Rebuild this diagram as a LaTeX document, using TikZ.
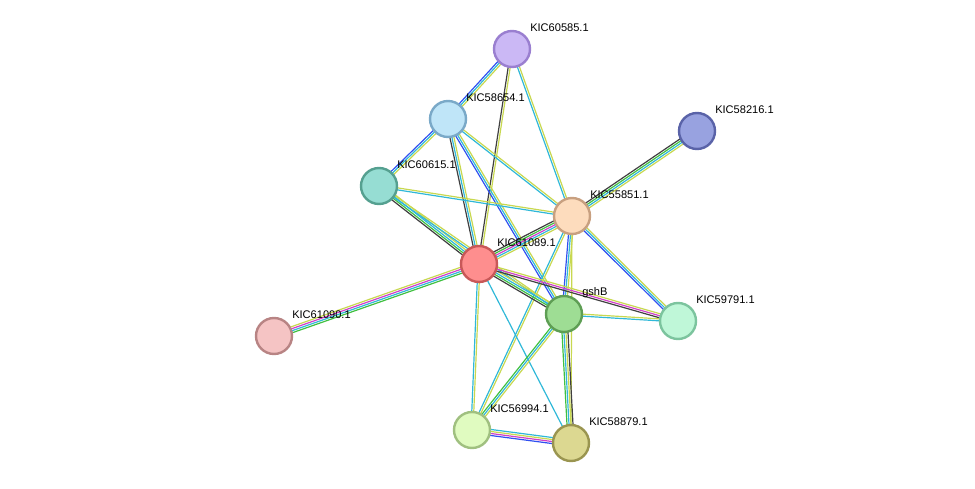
\documentclass[tikz,border=0pt]{standalone}
\usepackage{fontspec}
\setmainfont{Liberation Sans}
\usetikzlibrary{calc}
\definecolor{cyg}{HTML}{C8D850}
\definecolor{cdk}{HTML}{404040}
\definecolor{ccy}{HTML}{30B8D8}
\definecolor{cmg}{HTML}{D040C8}
\definecolor{cgr}{HTML}{40C040}
\definecolor{cbl}{HTML}{3050F0}
\tikzset{
 prot/.style={circle,minimum size=27pt,inner sep=0pt,line width=1.8pt},
 lbl/.style={anchor=west,font=\fontsize{8.3}{10}\selectfont,inner sep=0pt},
 ln/.style={line width=0.9pt}
}
\newcommand{\edg}[4]{% a b n colors
 \foreach \c [count=\i] in {#4}{
  \pgfmathsetmacro\off{(\i-(#3+1)/2)*1.5}
  \draw[ln,\c] ($(#1)!\off pt!90:(#2)$) -- ($(#2)!\off pt!-90:(#1)$);
 }}
\begin{document}
\begin{tikzpicture}[x=0.75pt,y=-0.75pt]
\useasboundingbox (0,0) rectangle (975,489);
\coordinate (a) at (512,49);
\coordinate (b) at (448,119);
\coordinate (c) at (697,131);
\coordinate (d) at (379,186);
\coordinate (e) at (572,216);
\coordinate (f) at (479,264);
\coordinate (g) at (564,314);
\coordinate (h) at (678,321);
\coordinate (i) at (274,336);
\coordinate (j) at (472,430);
\coordinate (k) at (571,443);
\edg{a}{b}{3}{cbl,ccy,cyg}
\edg{a}{f}{2}{cdk,cyg}
\edg{a}{e}{2}{ccy,cyg}
\edg{b}{d}{3}{cbl,ccy,cyg}
\edg{b}{f}{3}{cdk,ccy,cyg}
\edg{b}{g}{3}{cbl,ccy,cyg}
\edg{b}{e}{2}{ccy,cyg}
\edg{d}{f}{4}{cdk,cgr,ccy,cyg}
\edg{d}{e}{2}{ccy,cyg}
\edg{d}{g}{2}{ccy,cyg}
\edg{c}{e}{4}{cdk,cgr,ccy,cyg}
\edg{e}{f}{5}{cdk,cgr,cmg,ccy,cyg}
\edg{e}{g}{3}{cbl,ccy,cyg}
\edg{e}{h}{3}{cbl,ccy,cyg}
\edg{e}{j}{2}{ccy,cyg}
\edg{e}{k}{1}{cyg}
\edg{f}{g}{4}{cdk,cgr,ccy,cyg}
\edg{f}{h}{3}{cdk,cmg,cyg}
\edg{f}{i}{4}{cyg,cmg,ccy,cgr}
\edg{f}{j}{2}{ccy,cyg}
\edg{f}{k}{1}{ccy}
\edg{g}{h}{2}{ccy,cyg}
\edg{g}{j}{3}{cgr,ccy,cyg}
\edg{g}{k}{4}{cgr,ccy,cyg,cdk}
\edg{j}{k}{4}{cbl,cmg,cyg,ccy}
\node[prot,fill={rgb,255:red,203;green,184;blue,245},draw={rgb,255:red,154;green,127;blue,208}] (A) at (a) {};
\node[prot,fill={rgb,255:red,191;green,229;blue,248},draw={rgb,255:red,122;green,169;blue,200}] (B) at (b) {};
\node[prot,fill={rgb,255:red,152;green,162;blue,224},draw={rgb,255:red,90;green,99;blue,168}] (C) at (c) {};
\node[prot,fill={rgb,255:red,150;green,221;blue,211},draw={rgb,255:red,85;green,160;blue,144}] (D) at (d) {};
\node[prot,fill={rgb,255:red,253;green,220;blue,189},draw={rgb,255:red,200;green,160;blue,128}] (E) at (e) {};
\node[prot,fill={rgb,255:red,254;green,142;blue,142},draw={rgb,255:red,200;green,88;blue,88}] (F) at (f) {};
\node[prot,fill={rgb,255:red,158;green,221;blue,148},draw={rgb,255:red,94;green,158;blue,84}] (G) at (g) {};
\node[prot,fill={rgb,255:red,191;green,247;blue,216},draw={rgb,255:red,124;green,196;blue,158}] (H) at (h) {};
\node[prot,fill={rgb,255:red,245;green,196;blue,196},draw={rgb,255:red,184;green,132;blue,132}] (I) at (i) {};
\node[prot,fill={rgb,255:red,224;green,251;blue,192},draw={rgb,255:red,160;green,192;blue,128}] (J) at (j) {};
\node[prot,fill={rgb,255:red,220;green,216;blue,145},draw={rgb,255:red,154;green,149;blue,80}] (K) at (k) {};
\node[lbl] (la) at (530,28) {KIC60585.1};
\node[lbl] (lb) at (466,98) {KIC58654.1};
\node[lbl] (lc) at (715,110) {KIC58216.1};
\node[lbl] (ld) at (397,165) {KIC60615.1};
\node[lbl] (le) at (590,195) {KIC55851.1};
\node[lbl] (lf) at (497,243) {KIC61089.1};
\node[lbl] (lg) at (582,293) {gshB};
\node[lbl] (lh) at (696,300) {KIC59791.1};
\node[lbl] (li) at (292,315) {KIC61090.1};
\node[lbl] (lj) at (490,409) {KIC56994.1};
\node[lbl] (lk) at (589,422) {KIC58879.1};
\end{tikzpicture}
\end{document}
